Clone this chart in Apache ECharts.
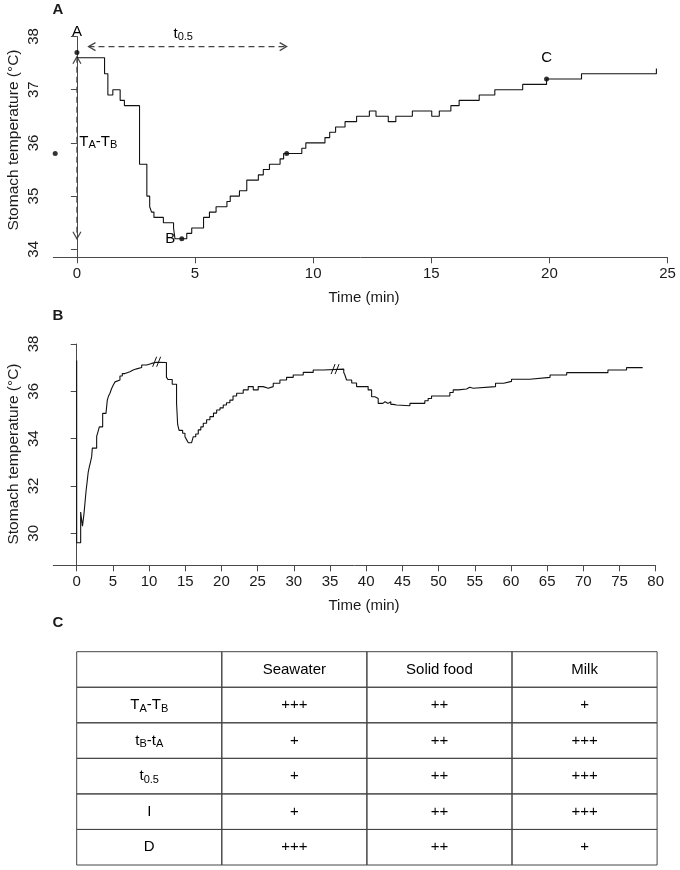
<!DOCTYPE html>
<html><head><meta charset="utf-8">
<script src="https://cdn.jsdelivr.net/npm/echarts@6/dist/echarts.min.js"></script>
<style>html,body{margin:0;padding:0;background:#fff}#c{width:680px;height:870px}</style>
</head><body><div id="c"></div>
<script>
// ---------- Panel A : step starts (time, min) and temperature (°C) ----------
const aTime = [0, 1.17, 1.31, 1.52, 1.83, 2.01, 2.65, 2.96, 3.08, 3.16, 3.26, 3.66, 4.09, 4.15, 4.65, 4.86, 5.36, 5.61, 5.89, 6.35, 6.49, 6.88, 7.19, 7.68, 7.89, 8.15, 8.6, 8.75, 9.52, 9.69, 10.5, 10.7, 10.95, 11.35, 11.84, 12.38, 12.66, 13.18, 13.5, 14.2, 15.02, 15.34, 15.83, 16.18, 17.03, 17.69, 18.87, 19.88, 21.36, 24.53];
const aTemp = [37.6, 37.3, 36.9, 37.0, 36.8, 36.7, 35.6, 35.0, 34.8, 34.7, 34.6, 34.5, 34.4, 34.2, 34.3, 34.4, 34.6, 34.7, 34.8, 34.9, 35.0, 35.1, 35.3, 35.4, 35.5, 35.6, 35.7, 35.8, 35.9, 36.0, 36.1, 36.2, 36.3, 36.4, 36.5, 36.6, 36.5, 36.4, 36.5, 36.6, 36.5, 36.6, 36.7, 36.8, 36.9, 37.0, 37.1, 37.2, 37.3, 37.4];
const aPointTime = [-0.92, 0, 4.44, 8.88, 19.88];
const aPointTemp = [35.8, 37.7, 34.2, 35.8, 37.2];
const aXTicks = [0, 5, 10, 15, 20, 25];
const aYTicks = [34, 35, 36, 37, 38];
// annotation arrows (double headed, dashed)
const aArrowFromTime = [0, 0.49];
const aArrowFromTemp = [37.62, 37.81];
const aArrowToTime = [0, 8.88];
const aArrowToTemp = [34.2, 37.81];
// annotation labels
const aLabelText = ['A', '{n|t}{s|0.5}', '{n|T}{s|A}{n|-T}{s|B}', 'B', 'C'];
const aLabelTime = [0, 4.5, 0.1, 3.95, 19.88];
const aLabelTemp = [38.08, 38.05, 36.02, 34.19, 37.59];

// ---------- Panel B ----------
const bTime = [0, 0, 0.55, 0.8, 1.0, 1.15, 1.3, 1.47, 1.6, 1.74, 1.9, 2.07, 2.16, 2.76, 2.95, 3.13, 3.59, 4.05, 4.23, 4.4, 4.6, 4.8, 5.06, 5.3, 5.52, 5.98, 6.3, 6.67, 7.36, 7.8, 8.29, 8.98, 9.67, 10.36, 11.05, 12.4, 12.6, 13.2, 13.8, 13.95, 14.15, 14.64, 14.96, 15.2, 15.42, 15.88, 16.1, 16.45, 16.8, 17.15, 17.49, 17.95, 18.41, 18.9, 19.34, 19.8, 20.25, 20.7, 21.17, 21.6, 22.1, 23.01, 23.7, 24.4, 25.08, 25.77, 26.47, 27.16, 28.08, 29.0, 29.92, 31.3, 32.68, 34.06, 36.9, 37.06, 37.29, 38.0, 38.67, 40.27, 40.75, 41.2, 41.66, 42.3, 42.6, 43.04, 43.4, 43.73, 44.2, 46.04, 48.1, 48.56, 49.03, 51.56, 52.02, 52.71, 53.87, 54.3, 54.78, 57.87, 59.0, 60.08, 62.6, 65.4, 67.7, 73.4, 75.97, 78.2];
const bTemp = [37.3, 29.6, 30.9, 30.3, 30.8, 31.3, 31.8, 32.25, 32.6, 32.8, 33.0, 33.24, 33.6, 34.1, 34.3, 34.5, 35.07, 35.15, 35.63, 35.8, 35.92, 36.1, 36.27, 36.4, 36.48, 36.65, 36.75, 36.83, 36.9, 36.95, 37.01, 37.11, 37.18, 37.23, 37.22, 36.6, 36.5, 36.3, 35.5, 34.6, 34.35, 34.23, 34.08, 33.95, 33.83, 33.87, 34.08, 34.2, 34.37, 34.5, 34.65, 34.8, 34.93, 35.08, 35.21, 35.3, 35.42, 35.52, 35.63, 35.8, 35.92, 36.06, 36.2, 36.06, 36.2, 36.13, 36.2, 36.34, 36.48, 36.59, 36.69, 36.8, 36.9, 36.94, 36.8, 36.69, 36.48, 36.35, 36.2, 36.06, 35.77, 35.7, 35.49, 35.56, 35.49, 35.56, 35.45, 35.42, 35.39, 35.49, 35.6, 35.7, 35.8, 35.95, 36.06, 36.1, 36.17, 36.13, 36.2, 36.34, 36.42, 36.51, 36.59, 36.69, 36.79, 36.9, 37.0, 37.0];
const bBreakTime = [11.05, 35.7];
const bBreakTemp = [37.25, 36.94];
const bXTicks = [0, 5, 10, 15, 20, 25, 30, 35, 40, 45, 50, 55, 60, 65, 70, 75, 80];
const bYTicks = [30, 32, 34, 36, 38];

// ---------- Panel C : table ----------
const tableColumns = ['', 'Seawater', 'Solid food', 'Milk'];
const tableRows = ['{n|T}{s|A}{n|-T}{s|B}', '{n|t}{s|B}{n|-t}{s|A}', '{n|t}{s|0.5}', 'I', 'D'];
const seawater = ['+++', '+', '+', '+', '+++'];
const solidFood = ['++', '++', '++', '++', '++'];
const milk = ['+', '+++', '+++', '+++', '+'];

// ---------- build ----------
const FONT = '"Liberation Sans", Arial, Helvetica, sans-serif';
const AX = '#4a4a4a';
const TXT = '#1a1a1a';
const rich = {
  n: {fontSize: 15, fontFamily: FONT, color: TXT, lineHeight: 18},
  s: {fontSize: 11, fontFamily: FONT, color: TXT, lineHeight: 9, verticalAlign: 'bottom'}
};
const zip = (xs, ys) => xs.map((x, i) => [x, ys[i]]);
const wrap = t => (t === '' ? '' : (t.indexOf('{') === 0 ? t : '{n|' + t + '}'));

const cellTexts = [];
const cellData = [];
tableColumns.forEach((c, ci) => { cellTexts.push(wrap(c)); cellData.push([ci, 0]); });
tableRows.forEach((r, ri) => {
  [r, seawater[ri], solidFood[ri], milk[ri]].forEach((t, ci) => {
    cellTexts.push(wrap(t));
    cellData.push([ci, ri + 1]);
  });
});

function valueAxis(min, max, ticks, extra) {
  return Object.assign({
    type: 'value', min: min, max: max,
    axisLine: {show: true, lineStyle: {color: AX, width: 1}},
    axisTick: {show: true, length: 6, customValues: ticks, lineStyle: {color: AX, width: 1}},
    axisLabel: {show: true, customValues: ticks, color: TXT, fontSize: 15, fontFamily: FONT, margin: 9},
    splitLine: {show: false}
  }, extra || {});
}

function arrowItem(params, api) {
  const p1 = api.coord([api.value(0), api.value(1)]);
  const p2 = api.coord([api.value(2), api.value(3)]);
  const dx = p2[0] - p1[0], dy = p2[1] - p1[1];
  const L = Math.sqrt(dx * dx + dy * dy);
  const ux = dx / L, uy = dy / L, nx = -uy, ny = ux;
  const h = 7, w = 4;
  const st = {stroke: '#444', lineWidth: 1.2, fill: 'none'};
  return {type: 'group', children: [
    {type: 'line', shape: {x1: p1[0], y1: p1[1], x2: p2[0], y2: p2[1]}, style: Object.assign({lineDash: [6, 4]}, st)},
    {type: 'polyline', shape: {points: [[p1[0] + h * ux + w * nx, p1[1] + h * uy + w * ny], p1, [p1[0] + h * ux - w * nx, p1[1] + h * uy - w * ny]]}, style: st},
    {type: 'polyline', shape: {points: [[p2[0] - h * ux + w * nx, p2[1] - h * uy + w * ny], p2, [p2[0] - h * ux - w * nx, p2[1] - h * uy - w * ny]]}, style: st}
  ]};
}

const labelAlign = ['center', 'center', 'left', 'center', 'center'];

const option = {
  animation: false,
  backgroundColor: '#fff',
  grid: [
    {left: 53.3, right: 12.5, top: 36.5, bottom: 612.7, outerBoundsMode: 'none', containLabel: false},
    {left: 53.3, right: 24.3, top: 344, bottom: 304.7, outerBoundsMode: 'none', containLabel: false},
    {left: 76.7, right: 22.9, top: 651.7, bottom: 5, outerBoundsMode: 'none', containLabel: false}
  ],
  xAxis: [
    valueAxis(-1, 25, aXTicks, {gridIndex: 0}),
    valueAxis(-3.23, 80, bXTicks, {gridIndex: 1}),
    {type: 'category', gridIndex: 2, data: tableColumns.map((c, i) => String(i)), show: false}
  ],
  yAxis: [
    valueAxis(33.85, 38, aYTicks, {gridIndex: 0, axisLabel: {customValues: aYTicks, rotate: 90, color: TXT, fontSize: 15, fontFamily: FONT, margin: 12}}),
    valueAxis(28.65, 38, bYTicks, {gridIndex: 1, axisLabel: {customValues: bYTicks, rotate: 90, color: TXT, fontSize: 15, fontFamily: FONT, margin: 12}}),
    {type: 'category', gridIndex: 2, inverse: true, data: ['0', '1', '2', '3', '4', '5'], show: false}
  ],
  series: [
    {type: 'line', xAxisIndex: 0, yAxisIndex: 0, step: 'end', showSymbol: false, silent: true,
      data: zip(aTime, aTemp), lineStyle: {color: '#111', width: 1.1}},
    {type: 'scatter', xAxisIndex: 0, yAxisIndex: 0, data: zip(aPointTime, aPointTemp), symbolSize: 5,
      itemStyle: {color: '#000'}, clip: false, silent: true},
    {type: 'custom', xAxisIndex: 0, yAxisIndex: 0, clip: false, silent: true,
      data: aArrowFromTime.map((t, i) => [t, aArrowFromTemp[i], aArrowToTime[i], aArrowToTemp[i]]),
      renderItem: arrowItem},
    {type: 'custom', xAxisIndex: 0, yAxisIndex: 0, clip: false, silent: true,
      data: zip(aLabelTime, aLabelTemp),
      renderItem: function (params, api) {
        const p = api.coord([api.value(0), api.value(1)]);
        return {type: 'text', x: p[0], y: p[1], style: {
          text: wrap(aLabelText[params.dataIndex]), rich: rich,
          align: labelAlign[params.dataIndex], verticalAlign: 'middle'}};
      }},
    {type: 'line', xAxisIndex: 1, yAxisIndex: 1, step: 'end', showSymbol: false, silent: true,
      data: zip(bTime, bTemp), lineStyle: {color: '#111', width: 1.1}},
    {type: 'custom', xAxisIndex: 1, yAxisIndex: 1, clip: false, silent: true,
      data: zip(bBreakTime, bBreakTemp),
      renderItem: function (params, api) {
        const p = api.coord([api.value(0), api.value(1)]);
        const st = {stroke: '#111', lineWidth: 1};
        return {type: 'group', children: [-2, 2].map(d => ({
          type: 'line', shape: {x1: p[0] + d - 2, y1: p[1] + 5, x2: p[0] + d + 2, y2: p[1] - 5}, style: st}))};
      }},
    {type: 'custom', xAxisIndex: 2, yAxisIndex: 2, silent: true,
      data: cellData,
      renderItem: function (params, api) {
        const c = api.coord([api.value(0), api.value(1)]);
        const s = api.size([1, 1]);
        return {type: 'group', children: [
          {type: 'rect', shape: {x: c[0] - s[0] / 2, y: c[1] - s[1] / 2, width: s[0], height: s[1]},
            style: {fill: 'none', stroke: '#444', lineWidth: 1}},
          {type: 'text', x: c[0], y: c[1], style: {text: cellTexts[params.dataIndex], rich: rich,
            align: 'center', verticalAlign: 'middle'}}
        ]};
      }}
  ],
  graphic: [
    {type: 'text', x: 58, y: 10, style: {text: 'A', font: 'bold 15px ' + FONT, fill: TXT, align: 'center', verticalAlign: 'middle'}},
    {type: 'text', x: 58, y: 316, style: {text: 'B', font: 'bold 15px ' + FONT, fill: TXT, align: 'center', verticalAlign: 'middle'}},
    {type: 'text', x: 58, y: 623, style: {text: 'C', font: 'bold 15px ' + FONT, fill: TXT, align: 'center', verticalAlign: 'middle'}},
    {type: 'text', x: 364, y: 298, style: {text: 'Time (min)', font: '15px ' + FONT, fill: TXT, align: 'center', verticalAlign: 'middle'}},
    {type: 'text', x: 364, y: 606, style: {text: 'Time (min)', font: '15px ' + FONT, fill: TXT, align: 'center', verticalAlign: 'middle'}},
    {type: 'text', x: 14, y: 140, rotation: Math.PI / 2, style: {text: 'Stomach temperature (°C)', font: '15.5px ' + FONT, fill: TXT, align: 'center', verticalAlign: 'middle'}},
    {type: 'text', x: 14, y: 454, rotation: Math.PI / 2, style: {text: 'Stomach temperature (°C)', font: '15.5px ' + FONT, fill: TXT, align: 'center', verticalAlign: 'middle'}}
  ]
};
const chart = echarts.init(document.getElementById('c'), null, {renderer: 'canvas', width: 680, height: 870});
chart.setOption(option);
</script>
</body></html>
